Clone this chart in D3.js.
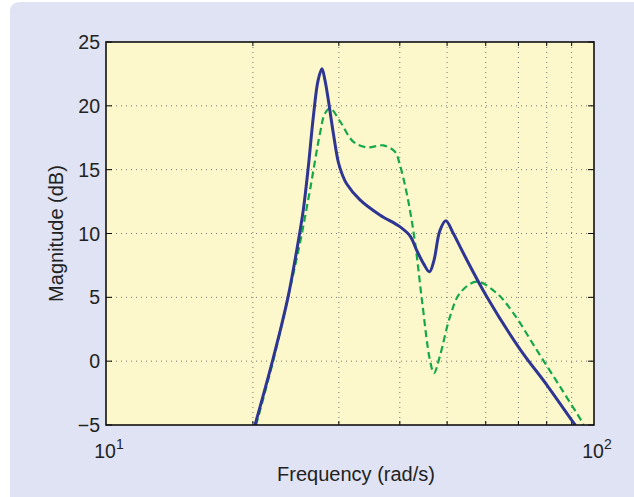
<!DOCTYPE html>
<html><head><meta charset="utf-8">
<script src="https://cdn.jsdelivr.net/npm/d3@7"></script>
<style>body{margin:0;background:#fff;}svg{display:block;font-family:"Liberation Sans",Arial,sans-serif;}</style>
</head><body><svg id="c" width="634" height="497"></svg>
<script>
const yTicks = [-5, 0, 5, 10, 15, 20, 25];
const xMajor = [10, 100];
const xMinor = [20, 30, 40, 50, 60, 70, 80, 90];
const blueF = [20.2, 22.0, 23.6, 24.6, 25.37, 25.98, 26.6, 27.2, 27.7, 28.1, 28.55, 29.23, 29.92, 30.5, 31.12, 33.15, 36.4, 40.0, 42.0, 43.3, 44.8, 46.0, 47.0, 48.3, 49.7, 51.5, 54.0, 60.3, 70.5, 80.0, 90.7, 91.5];
const blueDb = [-5, 0.2, 5.0, 8.7, 11.85, 15.24, 19.15, 22.0, 22.9, 22.0, 20.46, 17.85, 15.6, 14.6, 13.9, 12.63, 11.45, 10.54, 9.8, 8.7, 7.6, 7.0, 7.9, 10.2, 11.0, 10.0, 8.45, 5.05, 0.95, -1.85, -4.8, -5];
const greenF = [20.3, 22.0, 23.6, 24.97, 26.18, 27.45, 28.1, 28.8, 30.2, 32.1, 34.2, 37.0, 39.1, 40.0, 41.6, 43.0, 44.4, 46.1, 47.0, 48.3, 50.7, 53.1, 57.5, 63.2, 68.4, 76.3, 85.2, 94.4, 95.2];
const greenDb = [-5, 0.0, 5.0, 9.24, 13.4, 17.85, 19.4, 19.8, 18.76, 17.2, 16.75, 16.9, 16.4, 15.4, 12.6, 9.24, 4.8, 0.1, -0.94, 0.36, 3.5, 5.32, 6.23, 5.32, 3.75, 0.88, -2.0, -4.73, -5];

const svg = d3.select("#c");
svg.append("path").attr("d","M10,497 L10,12 Q10,2 20,2 L634,2 L634,497 Z").attr("fill","#e0e3f3");
const L=106, R=594, T=42, B=425;
const x = d3.scaleLog().domain([10,100]).range([L,R]);
const y = d3.scaleLinear().domain([-5,25]).range([B,T]);
svg.append("rect").attr("x",L).attr("y",T).attr("width",R-L).attr("height",B-T).attr("fill","#fdf8cb");
const g = svg.append("g");
xMinor.forEach(v=>{
  g.append("line").attr("x1",x(v)).attr("x2",x(v)).attr("y1",T).attr("y2",B)
   .attr("stroke","#777").attr("stroke-width",1).attr("stroke-dasharray","1,4");
});
yTicks.slice(1,-1).forEach(v=>{
  g.append("line").attr("x1",L).attr("x2",R).attr("y1",y(v)).attr("y2",y(v))
   .attr("stroke","#777").attr("stroke-width",1).attr("stroke-dasharray","1,4");
});
xMinor.forEach(v=>{
  g.append("line").attr("x1",x(v)).attr("x2",x(v)).attr("y1",B).attr("y2",B-4).attr("stroke","#000");
  g.append("line").attr("x1",x(v)).attr("x2",x(v)).attr("y1",T).attr("y2",T+4).attr("stroke","#000");
});
yTicks.forEach(v=>{
  g.append("line").attr("x1",L).attr("x2",L+6).attr("y1",y(v)).attr("y2",y(v)).attr("stroke","#000");
  g.append("line").attr("x1",R).attr("x2",R-6).attr("y1",y(v)).attr("y2",y(v)).attr("stroke","#000");
});
const line = d3.line().curve(d3.curveCatmullRom.alpha(0.5));
svg.append("clipPath").attr("id","cp").append("rect").attr("x",L).attr("y",T-2).attr("width",R-L).attr("height",B-T+2);
svg.append("path").attr("d",line(greenF.map((f,i)=>[x(f),y(greenDb[i])])))
  .attr("fill","none").attr("stroke","#14a84a").attr("stroke-width",2.2).attr("stroke-dasharray","7,4").attr("clip-path","url(#cp)");
svg.append("path").attr("d",line(blueF.map((f,i)=>[x(f),y(blueDb[i])])))
  .attr("fill","none").attr("stroke","#2e3592").attr("stroke-width",3).attr("clip-path","url(#cp)");
svg.append("rect").attr("x",L).attr("y",T).attr("width",R-L).attr("height",B-T).attr("fill","none").attr("stroke","#111").attr("stroke-width",1.6);
yTicks.forEach(v=>{
  svg.append("text").attr("x",L-6).attr("y",y(v)+7).attr("text-anchor","end").attr("font-size",19.5).attr("fill","#222")
   .text(v<0?"\u2212"+Math.abs(v):v);
});
xMajor.forEach((v,i)=>{
  const t=svg.append("text").attr("x",x(v)+3).attr("y",458).attr("text-anchor","middle").attr("font-size",19.5).attr("fill","#222");
  t.append("tspan").text("10");
  t.append("tspan").attr("dy",-9).attr("font-size",14).text(String(i+1));
});
svg.append("text").attr("x",(L+R)/2+6).attr("y",481).attr("text-anchor","middle").attr("font-size",20).attr("fill","#222").text("Frequency (rad/s)");
svg.append("text").attr("transform",`translate(63,${(T+B)/2}) rotate(-90)`).attr("text-anchor","middle").attr("font-size",20).attr("fill","#222").text("Magnitude (dB)");
</script></body></html>
